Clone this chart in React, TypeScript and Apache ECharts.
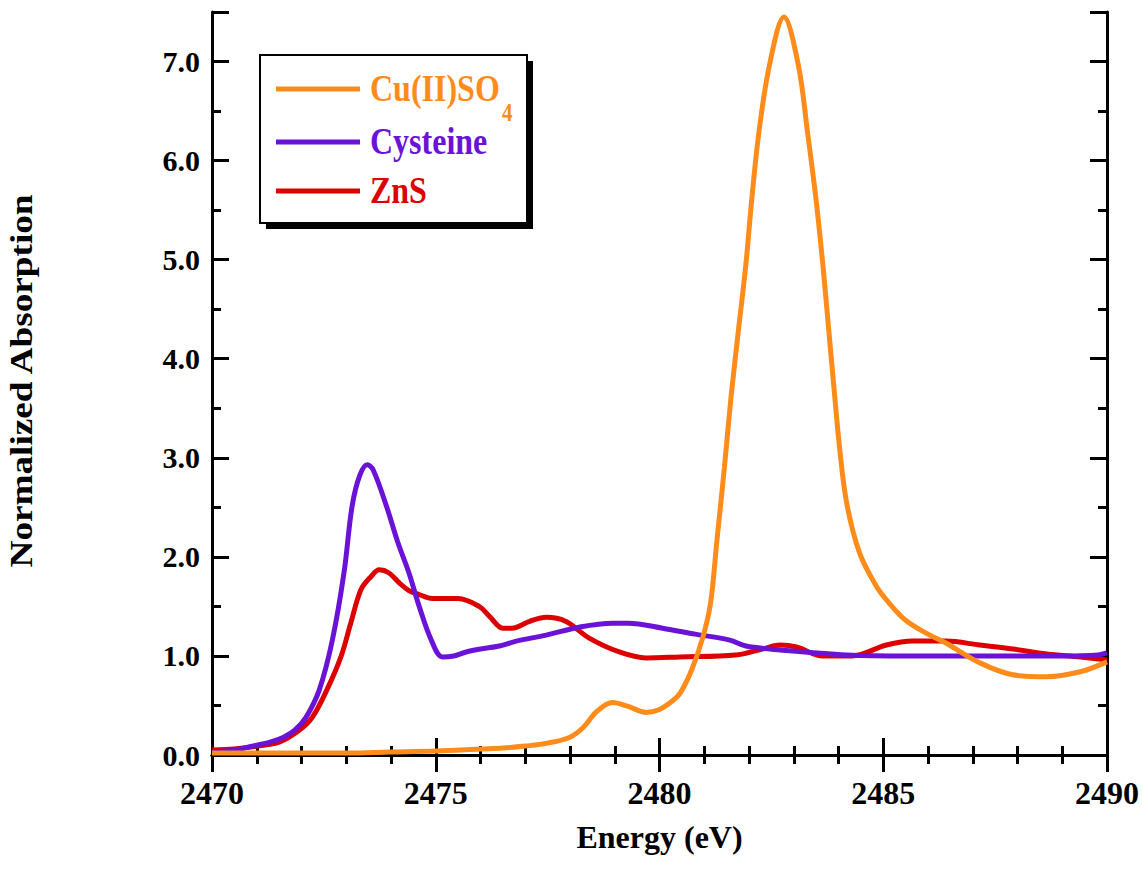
import React, { useEffect, useRef } from 'react';
import * as echarts from 'echarts';

// Energy (eV) / normalized absorption
const cuEnergy = [2470, 2471, 2472, 2473, 2474, 2475, 2476, 2476.5, 2477, 2477.5, 2478, 2478.3, 2478.6, 2478.95, 2479.3, 2479.7, 2480.0, 2480.3, 2480.47, 2480.72, 2480.97, 2481.14, 2481.28, 2481.45, 2481.6, 2481.78, 2481.93, 2482.06, 2482.22, 2482.46, 2482.78, 2483.1, 2483.31, 2483.5, 2483.65, 2483.78, 2483.9, 2484.02, 2484.18, 2484.47, 2484.85, 2485.1, 2485.5, 2486.0, 2486.4, 2487.16, 2487.9, 2488.65, 2489.4, 2490];
const cuValues = [0.02, 0.02, 0.02, 0.02, 0.03, 0.04, 0.06, 0.07, 0.09, 0.12, 0.18, 0.28, 0.44, 0.53, 0.49, 0.43, 0.46, 0.55, 0.63, 0.86, 1.19, 1.53, 2.15, 2.9, 3.62, 4.35, 4.95, 5.6, 6.28, 6.97, 7.45, 6.97, 6.28, 5.6, 4.95, 4.3, 3.7, 3.12, 2.55, 2.04, 1.7, 1.55, 1.36, 1.22, 1.13, 0.93, 0.81, 0.79, 0.84, 0.94];

const cysEnergy = [2470, 2470.5, 2471, 2471.3, 2471.6, 2471.85, 2472.1, 2472.4, 2472.69, 2472.95, 2473.13, 2473.3, 2473.47, 2473.6, 2473.9, 2474.15, 2474.4, 2474.63, 2474.9, 2475.15, 2475.4, 2475.68, 2476, 2476.42, 2476.8, 2477.47, 2478.2, 2478.95, 2479.3, 2480.07, 2480.8, 2481.57, 2481.93, 2482.7, 2484.18, 2485.6, 2487, 2488, 2489, 2489.8, 2490];
const cysValues = [0.03, 0.05, 0.1, 0.13, 0.18, 0.25, 0.38, 0.66, 1.16, 1.84, 2.51, 2.82, 2.93, 2.88, 2.51, 2.15, 1.84, 1.5, 1.16, 0.99, 1.0, 1.04, 1.07, 1.1, 1.15, 1.21, 1.29, 1.33, 1.33, 1.28, 1.22, 1.16, 1.1, 1.06, 1.01, 1.0, 1.0, 1.0, 1.0, 1.01, 1.03];

const znsEnergy = [2470, 2470.5, 2471, 2471.5, 2471.95, 2472.24, 2472.57, 2472.88, 2473.1, 2473.33, 2473.55, 2473.74, 2473.95, 2474.18, 2474.4, 2474.63, 2474.92, 2475.5, 2475.97, 2476.2, 2476.5, 2476.7, 2477.1, 2477.47, 2477.9, 2478.43, 2479.1, 2479.7, 2480.45, 2481.7, 2482.3, 2482.7, 2483.06, 2483.65, 2484.3, 2485.07, 2485.66, 2486.4, 2487.16, 2487.9, 2488.65, 2489.4, 2490];
const znsValues = [0.05, 0.06, 0.09, 0.13, 0.25, 0.38, 0.66, 0.99, 1.33, 1.67, 1.8, 1.87, 1.84, 1.74, 1.66, 1.62, 1.58, 1.58, 1.5, 1.4, 1.28, 1.28, 1.35, 1.39, 1.35, 1.18, 1.04, 0.98, 0.99, 1.01, 1.07, 1.11, 1.09, 1.0, 1.0, 1.11, 1.15, 1.15, 1.11, 1.07, 1.02, 0.99, 0.96];

const seriesNames = ['Cu(II)SO4', 'Cysteine', 'ZnS'];
const legendLabels = ['Cu(II)SO', 'Cysteine', 'ZnS'];
const seriesColors = ['#FF8C1A', '#6A12D6', '#DD0000'];
const xTitle = 'Energy (eV)';
const yTitle = 'Normalized Absorption';

const FONT = '"Liberation Serif", "Times New Roman", serif';

const pairs = (xs: number[], ys: number[]) => xs.map((x, i) => [x, ys[i]]);

export default function App() {
  const ref = useRef<HTMLDivElement>(null);
  useEffect(() => {
    if (!ref.current) return;
    const chart = echarts.init(ref.current, null, { renderer: 'svg' });
    const axisLine = { show: true, lineStyle: { color: '#000', width: 3 } };
    const tickStyle = { color: '#000', width: 3 };
    const labelStyle = { fontFamily: FONT, fontWeight: 'bold' as const, color: '#000' };
    const xBase = { type: 'value' as const, min: 2470, max: 2490, interval: 5, splitLine: { show: false } };
    const yBase = { type: 'value' as const, min: 0, max: 7.5, splitLine: { show: false } };
    const legendY = [89, 142, 191];
    const legendItems: any[] = [];
    legendLabels.forEach((label, i) => {
      legendItems.push({
        type: 'line',
        shape: { x1: 276, y1: legendY[i], x2: 360, y2: legendY[i] },
        style: { stroke: seriesColors[i], lineWidth: 5 },
      });
      legendItems.push({
        type: 'text',
        x: 370,
        y: legendY[i],
        scaleY: 1.18,
        style: {
          text: label,
          fill: seriesColors[i],
          fontFamily: FONT,
          fontWeight: 'bold',
          fontSize: 32,
          verticalAlign: 'middle',
        },
      });
    });
    legendItems.push({
      type: 'text',
      x: 502,
      y: 113,
      scaleY: 1.18,
      style: {
        text: '4',
        fill: seriesColors[0],
        fontFamily: FONT,
        fontWeight: 'bold',
        fontSize: 21,
        verticalAlign: 'middle',
      },
    });

    chart.setOption({
      animation: false,
      backgroundColor: '#fff',
      grid: { left: 212, right: 35, top: 12, bottom: 129 },
      xAxis: [
        {
          ...xBase,
          position: 'bottom',
          axisLine,
          axisTick: { show: true, inside: true, length: 17, lineStyle: tickStyle },
          minorTick: { show: true, splitNumber: 5, length: 9, lineStyle: tickStyle },
          axisLabel: { ...labelStyle, fontSize: 32, margin: 22, formatter: (v: number) => String(v) },
          name: xTitle,
          nameLocation: 'middle',
          nameGap: 66,
          nameTextStyle: { ...labelStyle, fontSize: 32 },
        },
        {
          ...xBase,
          position: 'top',
          axisLine,
          axisTick: { show: true, inside: true, length: 17, lineStyle: tickStyle },
          minorTick: { show: true, splitNumber: 5, length: 9, lineStyle: tickStyle },
          axisLabel: { show: false },
        },
      ],
      yAxis: [
        {
          ...yBase,
          interval: 1,
          position: 'left',
          axisLine,
          axisTick: { show: true, inside: true, length: 17, lineStyle: tickStyle },
          axisLabel: {
            ...labelStyle,
            fontSize: 30,
            margin: 12,
            formatter: (v: number) => (v > 7.01 ? '' : v.toFixed(1)),
          },
        },
        {
          ...yBase,
          interval: 0.5,
          position: 'left',
          axisLine: { show: false },
          axisTick: { show: true, inside: true, length: 9, lineStyle: tickStyle },
          axisLabel: { show: false },
        },
        {
          ...yBase,
          interval: 1,
          position: 'right',
          axisLine,
          axisTick: { show: true, inside: true, length: 17, lineStyle: tickStyle },
          axisLabel: { show: false },
        },
        {
          ...yBase,
          interval: 0.5,
          position: 'right',
          axisLine: { show: false },
          axisTick: { show: true, inside: true, length: 9, lineStyle: tickStyle },
          axisLabel: { show: false },
        },
      ],
      series: [
        { data: pairs(cuEnergy, cuValues) },
        { data: pairs(cysEnergy, cysValues) },
        { data: pairs(znsEnergy, znsValues) },
      ].map((s, i) => ({
        type: 'line',
        name: seriesNames[i],
        data: s.data,
        xAxisIndex: 0,
        yAxisIndex: 0,
        showSymbol: false,
        smooth: 0.35,
        lineStyle: { color: seriesColors[i], width: 5 },
        itemStyle: { color: seriesColors[i] },
        z: 3 - i,
      })),
      graphic: [
        {
          type: 'text',
          x: 37,
          y: 381,
          rotation: Math.PI / 2,
          scaleX: 1.2,
          style: {
            text: yTitle,
            fill: '#000',
            fontFamily: FONT,
            fontWeight: 'bold',
            fontSize: 31,
            align: 'center',
            verticalAlign: 'bottom',
          },
        },
        { type: 'rect', shape: { x: 266, y: 61, width: 267, height: 168 }, style: { fill: '#000' }, z: 10 },
        { type: 'rect', shape: { x: 260, y: 55, width: 267, height: 168 }, style: { fill: '#fff', stroke: '#000', lineWidth: 2 }, z: 11 },
        ...legendItems.map((e) => ({ ...e, z: 12 })),
      ],
    });
    return () => chart.dispose();
  }, []);
  return <div ref={ref} style={{ position: 'fixed', left: 0, top: 0, width: 1142, height: 884, background: '#fff' }} />;
}
